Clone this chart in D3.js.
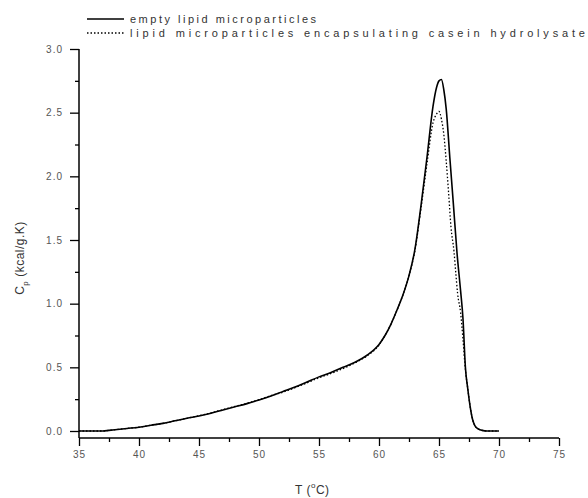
<!DOCTYPE html>
<html>
  <head>
    <meta charset="UTF-8">
    <title>Cp vs T</title>
    <style>
    body { margin: 0; background: white; }
    text { font-family: 'Liberation Sans', Arial, sans-serif; }
    </style>
  </head>
  <body>
  <script src="https://d3js.org/d3.v7.min.js"></script>
  <script>
  // series
  var seriesNames = ['empty lipid microparticles', 'lipid microparticles encapsulating casein hydrolysate'];
  var emptyT  = [35, 36, 37, 37.5, 38, 39, 40, 41, 42, 43, 44, 45, 46, 47, 48, 49, 50, 51, 52, 53, 54, 55, 56, 57, 58, 59, 60, 60.5, 61, 61.5, 62, 62.5, 63, 63.5, 64, 64.5, 64.8, 65.0, 65.2, 65.4, 65.6, 65.9, 66.2, 66.5, 66.8, 67.0, 67.2, 67.4, 67.6, 67.8, 68.0, 68.3, 68.6, 69.0, 69.5, 70.0];
  var emptyCp = [0, 0, 0, 0.005, 0.01, 0.02, 0.03, 0.045, 0.06, 0.08, 0.1, 0.118, 0.14, 0.165, 0.19, 0.215, 0.244, 0.275, 0.31, 0.345, 0.385, 0.425, 0.46, 0.5, 0.54, 0.595, 0.68, 0.75, 0.84, 0.95, 1.07, 1.22, 1.43, 1.77, 2.15, 2.55, 2.7, 2.75, 2.76, 2.68, 2.53, 2.15, 1.78, 1.4, 1.1, 0.88, 0.5, 0.33, 0.19, 0.09, 0.04, 0.015, 0.005, 0, 0, 0];
  var caseinT  = [35, 36, 37, 37.5, 38, 39, 40, 41, 42, 43, 44, 45, 46, 47, 48, 49, 50, 51, 52, 53, 54, 55, 56, 57, 58, 59, 60, 60.5, 61, 61.5, 62, 62.5, 63, 63.5, 64, 64.5, 64.8, 65.0, 65.2, 65.4, 65.6, 65.8, 66.0, 66.25, 66.4, 66.55, 66.8, 67.0, 67.2, 67.4, 67.6, 67.8, 68.0, 68.3, 68.6, 69.0, 69.5, 69.8];
  var caseinCp = [0, 0, 0, 0.005, 0.01, 0.02, 0.03, 0.045, 0.06, 0.08, 0.1, 0.12, 0.142, 0.168, 0.193, 0.218, 0.246, 0.278, 0.305, 0.34, 0.378, 0.418, 0.452, 0.49, 0.535, 0.59, 0.675, 0.75, 0.84, 0.95, 1.07, 1.22, 1.42, 1.75, 2.1, 2.42, 2.49, 2.51, 2.45, 2.33, 2.12, 1.87, 1.6, 1.41, 1.24, 1.08, 0.93, 0.72, 0.48, 0.33, 0.19, 0.09, 0.04, 0.015, 0.005, 0, 0, 0];
  var xTicks = [35, 40, 45, 50, 55, 60, 65, 70, 75];
  var yTicks = [0.0, 0.5, 1.0, 1.5, 2.0, 2.5, 3.0];

  var width = 588, height = 498;
  var svg = d3.select('body').append('svg').attr('width', width).attr('height', height);

  var x = d3.scaleLinear().domain([35, 75]).range([79, 559]);
  var y = d3.scaleLinear().domain([-0.055, 3.0]).range([438, 49]);

  // minor ticks
  var xMinor = d3.range(37.5, 75, 5);
  var yMinor = d3.range(0.25, 3.0, 0.5);

  var xAxis = svg.append('g').attr('transform', 'translate(0,438)')
    .call(d3.axisBottom(x).tickValues(xTicks).tickSize(8).tickPadding(5).tickFormat(d3.format('d')));
  svg.append('g').attr('transform', 'translate(0,438)')
    .call(d3.axisBottom(x).tickValues(xMinor).tickSize(4).tickFormat(''))
    .select('.domain').remove();
  var yAxis = svg.append('g').attr('transform', 'translate(79,0)')
    .call(d3.axisLeft(y).tickValues(yTicks).tickSize(9).tickPadding(7).tickFormat(d3.format('.1f')));
  svg.append('g').attr('transform', 'translate(79,0)')
    .call(d3.axisLeft(y).tickValues(yMinor).tickSize(4).tickFormat(''))
    .select('.domain').remove();

  svg.selectAll('.domain').attr('stroke', '#000').attr('stroke-width', 1.5);
  svg.selectAll('.tick line').attr('stroke', '#000').attr('stroke-width', 1.3);
  svg.selectAll('.tick text').attr('font-size', 10).attr('fill', '#555')
    .attr('letter-spacing', '1px');
  // keep the axis line flush with the outer ticks
  xAxis.select('.domain').attr('d', 'M79,0H559');
  yAxis.select('.domain').attr('d', 'M0,' + y(3.0) + 'V438');

  // curves
  var line = d3.line().curve(d3.curveMonotoneX)
    .x(function(d) { return x(d[0]); }).y(function(d) { return y(d[1]); });
  var emptyData = emptyT.map(function(t, i) { return [t, emptyCp[i]]; });
  var caseinData = caseinT.map(function(t, i) { return [t, caseinCp[i]]; });

  svg.append('path').datum(emptyData).attr('d', line)
    .attr('fill', 'none').attr('stroke', '#000').attr('stroke-width', 1.6);
  svg.append('path').datum(caseinData).attr('d', line)
    .attr('fill', 'none').attr('stroke', '#000').attr('stroke-width', 1.3)
    .attr('stroke-dasharray', '1.5,2');

  // legend
  var legend = svg.append('g');
  legend.append('line').attr('x1', 87).attr('x2', 124).attr('y1', 19).attr('y2', 19)
    .attr('stroke', '#000').attr('stroke-width', 1.5);
  legend.append('line').attr('x1', 87).attr('x2', 124).attr('y1', 33).attr('y2', 33)
    .attr('stroke', '#000').attr('stroke-width', 1.3).attr('stroke-dasharray', '1.5,2');
  legend.append('text').attr('x', 130).attr('y', 23).attr('font-size', 11).attr('fill', '#333')
    .attr('textLength', 186).attr('lengthAdjust', 'spacing').text(seriesNames[0]);
  legend.append('text').attr('x', 130).attr('y', 37).attr('font-size', 11).attr('fill', '#333')
    .attr('textLength', 455).attr('lengthAdjust', 'spacing').text(seriesNames[1]);

  // axis titles
  var xt = svg.append('text').attr('x', 295).attr('y', 494).attr('font-size', 12).attr('fill', '#333')
    .attr('letter-spacing', '0.5px');
  xt.append('tspan').text('T (');
  xt.append('tspan').attr('font-size', 8).attr('dy', -6).text('o');
  xt.append('tspan').attr('dy', 6).text('C)');

  var yt = svg.append('text').attr('transform', 'translate(24,258) rotate(-90)')
    .attr('text-anchor', 'middle').attr('font-size', 12).attr('fill', '#333').attr('letter-spacing', '0.5px');
  yt.append('tspan').text('C');
  yt.append('tspan').attr('font-size', 8).attr('dy', 4).text('p');
  yt.append('tspan').attr('dy', -4).text(' (kcal/g.K)');
  </script>
  </body>
</html>
